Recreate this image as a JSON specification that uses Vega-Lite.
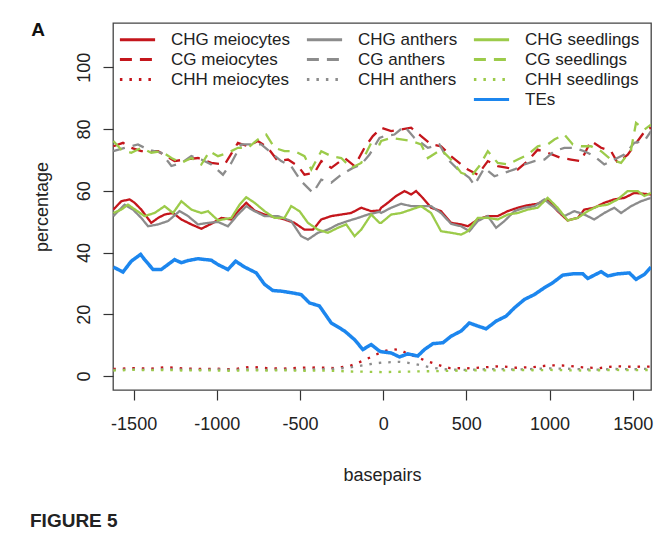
{
"$schema": "https://vega.github.io/schema/vega-lite/v6.json",
"background": "white",
"padding": {"left": 29, "top": 21, "right": 6, "bottom": 5},
"title": {"text": "A", "anchor": "start", "frame": "bounds", "fontSize": 19, "fontWeight": "bold", "font": "Liberation Sans", "color": "#111", "offset": -18, "dx": 2},
"vconcat": [{
"width": 538,
"height": 367,
"title": {"text": "FIGURE 5", "orient": "bottom", "anchor": "start", "frame": "bounds", "fontSize": 19, "fontWeight": "bold", "font": "Liberation Sans", "color": "#222", "offset": 28, "dx": -3},
"data": {"values": [
{"s":"CHG meiocytes","x":-1622,"y":53.9},{"s":"CHG meiocytes","x":-1574,"y":56.6},{"s":"CHG meiocytes","x":-1524,"y":57.2},{"s":"CHG meiocytes","x":-1494,"y":56.1},{"s":"CHG meiocytes","x":-1454,"y":53.9},{"s":"CHG meiocytes","x":-1394,"y":49.6},{"s":"CHG meiocytes","x":-1353,"y":51.2},{"s":"CHG meiocytes","x":-1314,"y":52.3},{"s":"CHG meiocytes","x":-1263,"y":52.8},{"s":"CHG meiocytes","x":-1213,"y":50.7},{"s":"CHG meiocytes","x":-1153,"y":49.1},{"s":"CHG meiocytes","x":-1093,"y":47.7},{"s":"CHG meiocytes","x":-1033,"y":49.3},{"s":"CHG meiocytes","x":-973,"y":51.2},{"s":"CHG meiocytes","x":-913,"y":50.7},{"s":"CHG meiocytes","x":-863,"y":53.9},{"s":"CHG meiocytes","x":-823,"y":56.1},{"s":"CHG meiocytes","x":-773,"y":53.6},{"s":"CHG meiocytes","x":-713,"y":52.3},{"s":"CHG meiocytes","x":-653,"y":51.5},{"s":"CHG meiocytes","x":-593,"y":50.7},{"s":"CHG meiocytes","x":-533,"y":49.6},{"s":"CHG meiocytes","x":-473,"y":47.4},{"s":"CHG meiocytes","x":-422,"y":47.4},{"s":"CHG meiocytes","x":-372,"y":50.7},{"s":"CHG meiocytes","x":-312,"y":51.8},{"s":"CHG meiocytes","x":-252,"y":52.3},{"s":"CHG meiocytes","x":-192,"y":52.8},{"s":"CHG meiocytes","x":-132,"y":54.5},{"s":"CHG meiocytes","x":-72,"y":53.4},{"s":"CHG meiocytes","x":-22,"y":53.6},{"s":"CHG meiocytes","x":-12,"y":54.5},{"s":"CHG meiocytes","x":28,"y":56.1},{"s":"CHG meiocytes","x":78,"y":58.3},{"s":"CHG meiocytes","x":128,"y":59.9},{"s":"CHG meiocytes","x":168,"y":58.8},{"s":"CHG meiocytes","x":198,"y":59.9},{"s":"CHG meiocytes","x":238,"y":57.7},{"s":"CHG meiocytes","x":288,"y":54.5},{"s":"CHG meiocytes","x":348,"y":53.4},{"s":"CHG meiocytes","x":408,"y":49.6},{"s":"CHG meiocytes","x":469,"y":49.1},{"s":"CHG meiocytes","x":509,"y":48.5},{"s":"CHG meiocytes","x":569,"y":50.7},{"s":"CHG meiocytes","x":629,"y":51.8},{"s":"CHG meiocytes","x":689,"y":51.8},{"s":"CHG meiocytes","x":749,"y":53.4},{"s":"CHG meiocytes","x":809,"y":54.5},{"s":"CHG meiocytes","x":869,"y":55.3},{"s":"CHG meiocytes","x":929,"y":55.8},{"s":"CHG meiocytes","x":989,"y":57.2},{"s":"CHG meiocytes","x":1049,"y":53.4},{"s":"CHG meiocytes","x":1109,"y":50.4},{"s":"CHG meiocytes","x":1170,"y":51.2},{"s":"CHG meiocytes","x":1209,"y":53.9},{"s":"CHG meiocytes","x":1269,"y":54.5},{"s":"CHG meiocytes","x":1329,"y":56.1},{"s":"CHG meiocytes","x":1389,"y":57.2},{"s":"CHG meiocytes","x":1450,"y":57.7},{"s":"CHG meiocytes","x":1510,"y":59.3},{"s":"CHG meiocytes","x":1570,"y":59.0},{"s":"CHG meiocytes","x":1610,"y":58.8},
{"s":"CHG anthers","x":-1622,"y":51.8},{"s":"CHG anthers","x":-1554,"y":55.5},{"s":"CHG anthers","x":-1504,"y":53.9},{"s":"CHG anthers","x":-1454,"y":51.2},{"s":"CHG anthers","x":-1413,"y":48.5},{"s":"CHG anthers","x":-1353,"y":49.1},{"s":"CHG anthers","x":-1293,"y":50.2},{"s":"CHG anthers","x":-1224,"y":53.4},{"s":"CHG anthers","x":-1173,"y":51.8},{"s":"CHG anthers","x":-1113,"y":49.1},{"s":"CHG anthers","x":-1053,"y":49.6},{"s":"CHG anthers","x":-993,"y":49.9},{"s":"CHG anthers","x":-933,"y":48.5},{"s":"CHG anthers","x":-873,"y":52.3},{"s":"CHG anthers","x":-823,"y":55.0},{"s":"CHG anthers","x":-773,"y":53.4},{"s":"CHG anthers","x":-713,"y":51.8},{"s":"CHG anthers","x":-633,"y":51.8},{"s":"CHG anthers","x":-553,"y":50.2},{"s":"CHG anthers","x":-493,"y":45.3},{"s":"CHG anthers","x":-452,"y":44.2},{"s":"CHG anthers","x":-392,"y":46.4},{"s":"CHG anthers","x":-332,"y":47.4},{"s":"CHG anthers","x":-272,"y":49.1},{"s":"CHG anthers","x":-212,"y":50.2},{"s":"CHG anthers","x":-152,"y":51.2},{"s":"CHG anthers","x":-92,"y":52.3},{"s":"CHG anthers","x":-22,"y":53.2},{"s":"CHG anthers","x":-12,"y":52.8},{"s":"CHG anthers","x":48,"y":54.5},{"s":"CHG anthers","x":108,"y":55.8},{"s":"CHG anthers","x":168,"y":55.0},{"s":"CHG anthers","x":228,"y":55.0},{"s":"CHG anthers","x":288,"y":55.0},{"s":"CHG anthers","x":348,"y":52.8},{"s":"CHG anthers","x":408,"y":49.3},{"s":"CHG anthers","x":469,"y":48.5},{"s":"CHG anthers","x":518,"y":46.9},{"s":"CHG anthers","x":569,"y":50.2},{"s":"CHG anthers","x":629,"y":51.8},{"s":"CHG anthers","x":679,"y":48.0},{"s":"CHG anthers","x":729,"y":50.2},{"s":"CHG anthers","x":789,"y":53.4},{"s":"CHG anthers","x":849,"y":54.5},{"s":"CHG anthers","x":909,"y":55.0},{"s":"CHG anthers","x":969,"y":57.2},{"s":"CHG anthers","x":1029,"y":54.5},{"s":"CHG anthers","x":1089,"y":51.8},{"s":"CHG anthers","x":1149,"y":53.4},{"s":"CHG anthers","x":1209,"y":52.3},{"s":"CHG anthers","x":1269,"y":50.7},{"s":"CHG anthers","x":1329,"y":52.8},{"s":"CHG anthers","x":1389,"y":54.5},{"s":"CHG anthers","x":1430,"y":52.8},{"s":"CHG anthers","x":1490,"y":55.0},{"s":"CHG anthers","x":1550,"y":56.6},{"s":"CHG anthers","x":1610,"y":57.7},
{"s":"CHG seedlings","x":-1622,"y":52.8},{"s":"CHG seedlings","x":-1574,"y":53.9},{"s":"CHG seedlings","x":-1534,"y":55.5},{"s":"CHG seedlings","x":-1494,"y":54.0},{"s":"CHG seedlings","x":-1434,"y":51.8},{"s":"CHG seedlings","x":-1374,"y":52.8},{"s":"CHG seedlings","x":-1314,"y":55.0},{"s":"CHG seedlings","x":-1263,"y":52.8},{"s":"CHG seedlings","x":-1213,"y":56.6},{"s":"CHG seedlings","x":-1153,"y":53.9},{"s":"CHG seedlings","x":-1093,"y":52.8},{"s":"CHG seedlings","x":-1053,"y":53.4},{"s":"CHG seedlings","x":-993,"y":50.4},{"s":"CHG seedlings","x":-913,"y":51.2},{"s":"CHG seedlings","x":-863,"y":55.5},{"s":"CHG seedlings","x":-823,"y":57.9},{"s":"CHG seedlings","x":-773,"y":56.1},{"s":"CHG seedlings","x":-713,"y":53.4},{"s":"CHG seedlings","x":-653,"y":51.2},{"s":"CHG seedlings","x":-593,"y":51.2},{"s":"CHG seedlings","x":-553,"y":55.0},{"s":"CHG seedlings","x":-503,"y":53.4},{"s":"CHG seedlings","x":-452,"y":49.6},{"s":"CHG seedlings","x":-392,"y":47.4},{"s":"CHG seedlings","x":-332,"y":46.4},{"s":"CHG seedlings","x":-272,"y":48.0},{"s":"CHG seedlings","x":-222,"y":49.1},{"s":"CHG seedlings","x":-172,"y":45.3},{"s":"CHG seedlings","x":-132,"y":47.4},{"s":"CHG seedlings","x":-72,"y":52.3},{"s":"CHG seedlings","x":-22,"y":49.6},{"s":"CHG seedlings","x":-12,"y":49.6},{"s":"CHG seedlings","x":48,"y":52.3},{"s":"CHG seedlings","x":108,"y":52.8},{"s":"CHG seedlings","x":168,"y":53.9},{"s":"CHG seedlings","x":228,"y":55.0},{"s":"CHG seedlings","x":288,"y":52.8},{"s":"CHG seedlings","x":348,"y":46.9},{"s":"CHG seedlings","x":408,"y":46.4},{"s":"CHG seedlings","x":469,"y":45.8},{"s":"CHG seedlings","x":509,"y":46.9},{"s":"CHG seedlings","x":569,"y":51.2},{"s":"CHG seedlings","x":629,"y":51.2},{"s":"CHG seedlings","x":689,"y":50.7},{"s":"CHG seedlings","x":749,"y":52.3},{"s":"CHG seedlings","x":809,"y":52.8},{"s":"CHG seedlings","x":869,"y":53.9},{"s":"CHG seedlings","x":929,"y":54.5},{"s":"CHG seedlings","x":989,"y":57.7},{"s":"CHG seedlings","x":1049,"y":54.5},{"s":"CHG seedlings","x":1109,"y":50.4},{"s":"CHG seedlings","x":1170,"y":51.2},{"s":"CHG seedlings","x":1230,"y":53.4},{"s":"CHG seedlings","x":1290,"y":55.0},{"s":"CHG seedlings","x":1350,"y":55.5},{"s":"CHG seedlings","x":1410,"y":57.2},{"s":"CHG seedlings","x":1470,"y":59.9},{"s":"CHG seedlings","x":1530,"y":59.9},{"s":"CHG seedlings","x":1570,"y":58.3},{"s":"CHG seedlings","x":1610,"y":59.3},
{"s":"CG meiocytes","x":-1622,"y":74.4},{"s":"CG meiocytes","x":-1564,"y":75.5},{"s":"CG meiocytes","x":-1514,"y":73.9},{"s":"CG meiocytes","x":-1454,"y":72.8},{"s":"CG meiocytes","x":-1353,"y":72.8},{"s":"CG meiocytes","x":-1254,"y":69.6},{"s":"CG meiocytes","x":-1194,"y":70.1},{"s":"CG meiocytes","x":-1113,"y":70.6},{"s":"CG meiocytes","x":-1033,"y":69.0},{"s":"CG meiocytes","x":-953,"y":68.5},{"s":"CG meiocytes","x":-873,"y":75.5},{"s":"CG meiocytes","x":-813,"y":74.4},{"s":"CG meiocytes","x":-753,"y":76.1},{"s":"CG meiocytes","x":-693,"y":73.9},{"s":"CG meiocytes","x":-633,"y":69.6},{"s":"CG meiocytes","x":-572,"y":70.1},{"s":"CG meiocytes","x":-512,"y":68.0},{"s":"CG meiocytes","x":-473,"y":65.2},{"s":"CG meiocytes","x":-413,"y":65.8},{"s":"CG meiocytes","x":-372,"y":69.6},{"s":"CG meiocytes","x":-312,"y":67.4},{"s":"CG meiocytes","x":-232,"y":70.6},{"s":"CG meiocytes","x":-172,"y":68.0},{"s":"CG meiocytes","x":-112,"y":73.9},{"s":"CG meiocytes","x":-62,"y":77.7},{"s":"CG meiocytes","x":-22,"y":79.8},{"s":"CG meiocytes","x":-12,"y":80.4},{"s":"CG meiocytes","x":48,"y":79.3},{"s":"CG meiocytes","x":108,"y":79.8},{"s":"CG meiocytes","x":168,"y":80.4},{"s":"CG meiocytes","x":228,"y":77.7},{"s":"CG meiocytes","x":288,"y":75.0},{"s":"CG meiocytes","x":348,"y":74.4},{"s":"CG meiocytes","x":408,"y":71.2},{"s":"CG meiocytes","x":469,"y":68.5},{"s":"CG meiocytes","x":509,"y":66.9},{"s":"CG meiocytes","x":569,"y":65.2},{"s":"CG meiocytes","x":629,"y":69.6},{"s":"CG meiocytes","x":689,"y":68.0},{"s":"CG meiocytes","x":749,"y":67.4},{"s":"CG meiocytes","x":809,"y":66.9},{"s":"CG meiocytes","x":869,"y":69.6},{"s":"CG meiocytes","x":929,"y":73.3},{"s":"CG meiocytes","x":989,"y":72.3},{"s":"CG meiocytes","x":1069,"y":70.6},{"s":"CG meiocytes","x":1129,"y":70.1},{"s":"CG meiocytes","x":1189,"y":69.6},{"s":"CG meiocytes","x":1249,"y":76.1},{"s":"CG meiocytes","x":1310,"y":73.9},{"s":"CG meiocytes","x":1370,"y":72.8},{"s":"CG meiocytes","x":1410,"y":69.0},{"s":"CG meiocytes","x":1470,"y":71.7},{"s":"CG meiocytes","x":1530,"y":76.1},{"s":"CG meiocytes","x":1580,"y":79.8},{"s":"CG meiocytes","x":1610,"y":80.4},
{"s":"CG anthers","x":-1622,"y":72.8},{"s":"CG anthers","x":-1554,"y":73.9},{"s":"CG anthers","x":-1474,"y":75.0},{"s":"CG anthers","x":-1413,"y":73.3},{"s":"CG anthers","x":-1334,"y":72.3},{"s":"CG anthers","x":-1273,"y":68.0},{"s":"CG anthers","x":-1213,"y":69.0},{"s":"CG anthers","x":-1153,"y":71.2},{"s":"CG anthers","x":-1093,"y":70.1},{"s":"CG anthers","x":-1033,"y":68.5},{"s":"CG anthers","x":-963,"y":65.2},{"s":"CG anthers","x":-913,"y":69.0},{"s":"CG anthers","x":-853,"y":75.0},{"s":"CG anthers","x":-793,"y":75.0},{"s":"CG anthers","x":-733,"y":75.0},{"s":"CG anthers","x":-673,"y":72.3},{"s":"CG anthers","x":-613,"y":69.6},{"s":"CG anthers","x":-553,"y":68.0},{"s":"CG anthers","x":-493,"y":63.1},{"s":"CG anthers","x":-422,"y":59.3},{"s":"CG anthers","x":-372,"y":63.6},{"s":"CG anthers","x":-312,"y":62.6},{"s":"CG anthers","x":-252,"y":65.2},{"s":"CG anthers","x":-182,"y":67.4},{"s":"CG anthers","x":-132,"y":68.5},{"s":"CG anthers","x":-82,"y":71.7},{"s":"CG anthers","x":-22,"y":77.1},{"s":"CG anthers","x":8,"y":77.7},{"s":"CG anthers","x":68,"y":78.2},{"s":"CG anthers","x":128,"y":80.9},{"s":"CG anthers","x":188,"y":77.1},{"s":"CG anthers","x":269,"y":73.9},{"s":"CG anthers","x":338,"y":75.0},{"s":"CG anthers","x":389,"y":70.1},{"s":"CG anthers","x":449,"y":66.9},{"s":"CG anthers","x":518,"y":64.2},{"s":"CG anthers","x":548,"y":61.8},{"s":"CG anthers","x":609,"y":67.4},{"s":"CG anthers","x":669,"y":64.7},{"s":"CG anthers","x":729,"y":65.8},{"s":"CG anthers","x":789,"y":66.9},{"s":"CG anthers","x":849,"y":68.5},{"s":"CG anthers","x":909,"y":69.6},{"s":"CG anthers","x":969,"y":70.1},{"s":"CG anthers","x":1029,"y":72.8},{"s":"CG anthers","x":1089,"y":73.9},{"s":"CG anthers","x":1149,"y":73.9},{"s":"CG anthers","x":1209,"y":72.8},{"s":"CG anthers","x":1269,"y":71.2},{"s":"CG anthers","x":1329,"y":68.5},{"s":"CG anthers","x":1389,"y":70.1},{"s":"CG anthers","x":1450,"y":71.7},{"s":"CG anthers","x":1510,"y":75.5},{"s":"CG anthers","x":1570,"y":76.1},{"s":"CG anthers","x":1610,"y":79.3},
{"s":"CG seedlings","x":-1622,"y":76.1},{"s":"CG seedlings","x":-1574,"y":73.3},{"s":"CG seedlings","x":-1514,"y":72.3},{"s":"CG seedlings","x":-1454,"y":73.9},{"s":"CG seedlings","x":-1394,"y":72.3},{"s":"CG seedlings","x":-1334,"y":72.8},{"s":"CG seedlings","x":-1273,"y":70.6},{"s":"CG seedlings","x":-1213,"y":69.0},{"s":"CG seedlings","x":-1153,"y":70.6},{"s":"CG seedlings","x":-1093,"y":68.5},{"s":"CG seedlings","x":-1043,"y":72.8},{"s":"CG seedlings","x":-993,"y":71.2},{"s":"CG seedlings","x":-933,"y":72.3},{"s":"CG seedlings","x":-873,"y":73.9},{"s":"CG seedlings","x":-813,"y":73.9},{"s":"CG seedlings","x":-753,"y":76.6},{"s":"CG seedlings","x":-703,"y":78.2},{"s":"CG seedlings","x":-653,"y":73.9},{"s":"CG seedlings","x":-593,"y":72.8},{"s":"CG seedlings","x":-533,"y":72.8},{"s":"CG seedlings","x":-473,"y":71.2},{"s":"CG seedlings","x":-432,"y":66.9},{"s":"CG seedlings","x":-372,"y":72.8},{"s":"CG seedlings","x":-312,"y":71.2},{"s":"CG seedlings","x":-252,"y":70.6},{"s":"CG seedlings","x":-192,"y":67.4},{"s":"CG seedlings","x":-132,"y":69.0},{"s":"CG seedlings","x":-72,"y":75.5},{"s":"CG seedlings","x":-22,"y":75.0},{"s":"CG seedlings","x":-12,"y":76.1},{"s":"CG seedlings","x":48,"y":77.1},{"s":"CG seedlings","x":108,"y":76.6},{"s":"CG seedlings","x":168,"y":76.1},{"s":"CG seedlings","x":228,"y":75.0},{"s":"CG seedlings","x":269,"y":70.6},{"s":"CG seedlings","x":348,"y":73.3},{"s":"CG seedlings","x":408,"y":70.1},{"s":"CG seedlings","x":469,"y":65.8},{"s":"CG seedlings","x":529,"y":64.7},{"s":"CG seedlings","x":578,"y":68.0},{"s":"CG seedlings","x":629,"y":72.8},{"s":"CG seedlings","x":689,"y":69.0},{"s":"CG seedlings","x":749,"y":68.5},{"s":"CG seedlings","x":809,"y":70.1},{"s":"CG seedlings","x":869,"y":71.7},{"s":"CG seedlings","x":929,"y":74.4},{"s":"CG seedlings","x":989,"y":75.0},{"s":"CG seedlings","x":1029,"y":76.6},{"s":"CG seedlings","x":1089,"y":78.2},{"s":"CG seedlings","x":1140,"y":75.0},{"s":"CG seedlings","x":1189,"y":74.4},{"s":"CG seedlings","x":1249,"y":74.4},{"s":"CG seedlings","x":1310,"y":72.8},{"s":"CG seedlings","x":1370,"y":70.1},{"s":"CG seedlings","x":1430,"y":69.0},{"s":"CG seedlings","x":1490,"y":73.3},{"s":"CG seedlings","x":1520,"y":82.0},{"s":"CG seedlings","x":1570,"y":79.8},{"s":"CG seedlings","x":1610,"y":81.4},
{"s":"CHH meiocytes","x":-1622,"y":2.3},{"s":"CHH meiocytes","x":-1500,"y":2.6},{"s":"CHH meiocytes","x":-1400,"y":2.4},{"s":"CHH meiocytes","x":-1300,"y":2.9},{"s":"CHH meiocytes","x":-1200,"y":2.5},{"s":"CHH meiocytes","x":-1100,"y":2.3},{"s":"CHH meiocytes","x":-1000,"y":2.4},{"s":"CHH meiocytes","x":-900,"y":2.2},{"s":"CHH meiocytes","x":-800,"y":3.0},{"s":"CHH meiocytes","x":-700,"y":2.6},{"s":"CHH meiocytes","x":-600,"y":2.4},{"s":"CHH meiocytes","x":-500,"y":2.7},{"s":"CHH meiocytes","x":-400,"y":2.8},{"s":"CHH meiocytes","x":-300,"y":2.6},{"s":"CHH meiocytes","x":-250,"y":2.9},{"s":"CHH meiocytes","x":-200,"y":3.3},{"s":"CHH meiocytes","x":-150,"y":4.3},{"s":"CHH meiocytes","x":-100,"y":5.5},{"s":"CHH meiocytes","x":-50,"y":6.8},{"s":"CHH meiocytes","x":0,"y":8.0},{"s":"CHH meiocytes","x":50,"y":8.7},{"s":"CHH meiocytes","x":100,"y":8.5},{"s":"CHH meiocytes","x":150,"y":7.2},{"s":"CHH meiocytes","x":200,"y":6.2},{"s":"CHH meiocytes","x":250,"y":5.1},{"s":"CHH meiocytes","x":300,"y":4.2},{"s":"CHH meiocytes","x":350,"y":3.3},{"s":"CHH meiocytes","x":400,"y":2.6},{"s":"CHH meiocytes","x":500,"y":2.5},{"s":"CHH meiocytes","x":600,"y":2.8},{"s":"CHH meiocytes","x":700,"y":3.2},{"s":"CHH meiocytes","x":800,"y":2.7},{"s":"CHH meiocytes","x":900,"y":2.9},{"s":"CHH meiocytes","x":1000,"y":3.5},{"s":"CHH meiocytes","x":1100,"y":3.4},{"s":"CHH meiocytes","x":1200,"y":2.8},{"s":"CHH meiocytes","x":1300,"y":2.6},{"s":"CHH meiocytes","x":1400,"y":3.2},{"s":"CHH meiocytes","x":1500,"y":3.0},{"s":"CHH meiocytes","x":1610,"y":3.1},
{"s":"CHH anthers","x":-1622,"y":2.0},{"s":"CHH anthers","x":-1500,"y":2.2},{"s":"CHH anthers","x":-1400,"y":2.0},{"s":"CHH anthers","x":-1300,"y":2.3},{"s":"CHH anthers","x":-1200,"y":2.1},{"s":"CHH anthers","x":-1100,"y":2.0},{"s":"CHH anthers","x":-1000,"y":2.2},{"s":"CHH anthers","x":-900,"y":2.0},{"s":"CHH anthers","x":-800,"y":2.2},{"s":"CHH anthers","x":-700,"y":2.0},{"s":"CHH anthers","x":-600,"y":2.1},{"s":"CHH anthers","x":-500,"y":2.0},{"s":"CHH anthers","x":-400,"y":2.2},{"s":"CHH anthers","x":-300,"y":2.3},{"s":"CHH anthers","x":-200,"y":2.8},{"s":"CHH anthers","x":-150,"y":3.2},{"s":"CHH anthers","x":-100,"y":3.7},{"s":"CHH anthers","x":-50,"y":4.1},{"s":"CHH anthers","x":0,"y":4.4},{"s":"CHH anthers","x":50,"y":4.5},{"s":"CHH anthers","x":100,"y":4.6},{"s":"CHH anthers","x":150,"y":4.3},{"s":"CHH anthers","x":200,"y":3.8},{"s":"CHH anthers","x":250,"y":3.2},{"s":"CHH anthers","x":300,"y":2.7},{"s":"CHH anthers","x":350,"y":2.3},{"s":"CHH anthers","x":400,"y":2.1},{"s":"CHH anthers","x":500,"y":2.0},{"s":"CHH anthers","x":600,"y":2.2},{"s":"CHH anthers","x":700,"y":2.3},{"s":"CHH anthers","x":800,"y":2.1},{"s":"CHH anthers","x":900,"y":2.3},{"s":"CHH anthers","x":1000,"y":2.5},{"s":"CHH anthers","x":1100,"y":2.4},{"s":"CHH anthers","x":1200,"y":2.2},{"s":"CHH anthers","x":1300,"y":2.1},{"s":"CHH anthers","x":1400,"y":2.3},{"s":"CHH anthers","x":1500,"y":2.2},{"s":"CHH anthers","x":1610,"y":2.4},
{"s":"CHH seedlings","x":-1622,"y":1.8},{"s":"CHH seedlings","x":-1500,"y":2.0},{"s":"CHH seedlings","x":-1400,"y":1.9},{"s":"CHH seedlings","x":-1300,"y":2.0},{"s":"CHH seedlings","x":-1200,"y":1.8},{"s":"CHH seedlings","x":-1100,"y":1.9},{"s":"CHH seedlings","x":-1000,"y":1.8},{"s":"CHH seedlings","x":-900,"y":1.7},{"s":"CHH seedlings","x":-800,"y":1.9},{"s":"CHH seedlings","x":-700,"y":1.8},{"s":"CHH seedlings","x":-600,"y":1.9},{"s":"CHH seedlings","x":-500,"y":1.7},{"s":"CHH seedlings","x":-400,"y":1.8},{"s":"CHH seedlings","x":-300,"y":1.7},{"s":"CHH seedlings","x":-200,"y":1.5},{"s":"CHH seedlings","x":-100,"y":1.4},{"s":"CHH seedlings","x":0,"y":1.3},{"s":"CHH seedlings","x":100,"y":1.4},{"s":"CHH seedlings","x":200,"y":1.5},{"s":"CHH seedlings","x":300,"y":1.6},{"s":"CHH seedlings","x":400,"y":1.7},{"s":"CHH seedlings","x":500,"y":1.8},{"s":"CHH seedlings","x":600,"y":1.9},{"s":"CHH seedlings","x":700,"y":1.8},{"s":"CHH seedlings","x":800,"y":2.0},{"s":"CHH seedlings","x":900,"y":1.9},{"s":"CHH seedlings","x":1000,"y":2.0},{"s":"CHH seedlings","x":1100,"y":1.9},{"s":"CHH seedlings","x":1200,"y":1.8},{"s":"CHH seedlings","x":1300,"y":1.9},{"s":"CHH seedlings","x":1400,"y":2.0},{"s":"CHH seedlings","x":1500,"y":1.9},{"s":"CHH seedlings","x":1610,"y":2.0},
{"s":"TEs","x":-1622,"y":35.3},{"s":"TEs","x":-1564,"y":33.7},{"s":"TEs","x":-1514,"y":37.2},{"s":"TEs","x":-1458,"y":39.4},{"s":"TEs","x":-1434,"y":37.7},{"s":"TEs","x":-1383,"y":34.5},{"s":"TEs","x":-1334,"y":34.5},{"s":"TEs","x":-1254,"y":37.7},{"s":"TEs","x":-1213,"y":36.7},{"s":"TEs","x":-1173,"y":37.4},{"s":"TEs","x":-1113,"y":38.0},{"s":"TEs","x":-1033,"y":37.5},{"s":"TEs","x":-993,"y":36.1},{"s":"TEs","x":-933,"y":34.5},{"s":"TEs","x":-887,"y":37.2},{"s":"TEs","x":-833,"y":35.3},{"s":"TEs","x":-763,"y":33.4},{"s":"TEs","x":-713,"y":29.7},{"s":"TEs","x":-663,"y":27.7},{"s":"TEs","x":-613,"y":27.5},{"s":"TEs","x":-553,"y":27.0},{"s":"TEs","x":-493,"y":26.4},{"s":"TEs","x":-443,"y":23.7},{"s":"TEs","x":-383,"y":22.7},{"s":"TEs","x":-312,"y":17.2},{"s":"TEs","x":-232,"y":14.6},{"s":"TEs","x":-172,"y":11.8},{"s":"TEs","x":-122,"y":8.6},{"s":"TEs","x":-72,"y":10.2},{"s":"TEs","x":-22,"y":8.1},{"s":"TEs","x":-12,"y":7.9},{"s":"TEs","x":48,"y":7.5},{"s":"TEs","x":98,"y":6.2},{"s":"TEs","x":148,"y":7.2},{"s":"TEs","x":208,"y":6.5},{"s":"TEs","x":248,"y":8.6},{"s":"TEs","x":299,"y":10.5},{"s":"TEs","x":359,"y":10.8},{"s":"TEs","x":408,"y":12.9},{"s":"TEs","x":469,"y":14.6},{"s":"TEs","x":518,"y":17.2},{"s":"TEs","x":569,"y":16.2},{"s":"TEs","x":619,"y":15.3},{"s":"TEs","x":679,"y":17.8},{"s":"TEs","x":739,"y":19.4},{"s":"TEs","x":789,"y":22.1},{"s":"TEs","x":849,"y":24.8},{"s":"TEs","x":909,"y":26.4},{"s":"TEs","x":969,"y":28.6},{"s":"TEs","x":1019,"y":30.2},{"s":"TEs","x":1080,"y":32.7},{"s":"TEs","x":1140,"y":33.1},{"s":"TEs","x":1200,"y":33.1},{"s":"TEs","x":1230,"y":31.6},{"s":"TEs","x":1310,"y":33.8},{"s":"TEs","x":1350,"y":32.4},{"s":"TEs","x":1410,"y":33.1},{"s":"TEs","x":1480,"y":33.4},{"s":"TEs","x":1520,"y":31.3},{"s":"TEs","x":1570,"y":32.9},{"s":"TEs","x":1610,"y":35.3}
]},
"encoding": {
 "x": {"field": "x", "type": "quantitative", "title": "basepairs",
   "scale": {"domain": [-1624, 1610], "nice": false, "zero": false},
   "axis": {"values": [-1500, -1000, -500, 0, 500, 1000, 1500], "labelExpr": "'' + datum.value", "labelPadding": 15, "titlePadding": 33, "labelFlush": false}},
 "y": {"field": "y", "type": "quantitative", "title": "percentage",
   "scale": {"domain": [-4.5, 114.3], "nice": false, "zero": false},
   "axis": {"values": [0, 20, 40, 60, 80, 100], "labelAngle": -90, "labelAlign": "center", "labelBaseline": "bottom", "labelPadding": 10, "titlePadding": 24, "labelFlush": false}},
 "color": {"field": "s", "type": "nominal", "title": null,
   "scale": {"domain": ["CHG meiocytes", "CG meiocytes", "CHH meiocytes", " ", "CHG anthers", "CG anthers", "CHH anthers", "  ", "CHG seedlings", "CG seedlings", "CHH seedlings", "TEs"],
             "range": ["#C4161C", "#C4161C", "#C4161C", "transparent", "#8C8C8C", "#8C8C8C", "#8C8C8C", "transparent", "#9CCB4A", "#9CCB4A", "#9CCB4A", "#1C86EE"]},
   "legend": {"orient": "none", "legendX": 15, "legendY": 7, "columns": 3, "symbolType": "M-2.2,0H2.2", "symbolSize": 256, "symbolStrokeWidth": 3, "labelFont": "Liberation Sans", "labelFontSize": 17, "labelColor": "#222", "labelOffset": 24, "columnPadding": 9, "rowPadding": 2, "labelLimit": 300}},
 "strokeDash": {"field": "s", "type": "nominal", "title": null,
   "scale": {"domain": ["CHG meiocytes", "CG meiocytes", "CHH meiocytes", " ", "CHG anthers", "CG anthers", "CHH anthers", "  ", "CHG seedlings", "CG seedlings", "CHH seedlings", "TEs"],
             "range": [[1,0],[12,8],[2.5,7],[1,0],[1,0],[12,8],[2.5,7],[1,0],[1,0],[12,8],[2.5,7],[1,0]]},
   "legend": {"orient": "none", "legendX": 15, "legendY": 7, "columns": 3, "symbolType": "M-2.2,0H2.2", "symbolSize": 256, "symbolStrokeWidth": 3, "labelFont": "Liberation Sans", "labelFontSize": 17, "labelColor": "#222", "labelOffset": 24, "columnPadding": 9, "rowPadding": 2, "labelLimit": 300}}
},
"layer": [
 {"transform": [{"filter": "datum.s != 'TEs'"}], "mark": {"type": "line", "strokeWidth": 2.3, "clip": true, "interpolate": "linear"}},
 {"transform": [{"filter": "datum.s == 'TEs'"}], "mark": {"type": "line", "strokeWidth": 3.5, "clip": true}}
]
}],
"config": {
 "view": {"stroke": "#444", "strokeWidth": 1.3},
 "axis": {"grid": false, "domain": false, "tickSize": 10, "tickColor": "#333", "tickWidth": 1.2,
   "labelFont": "Liberation Sans", "labelFontSize": 18, "labelColor": "#222",
   "titleFont": "Liberation Sans", "titleFontSize": 18, "titleFontWeight": "normal", "titleColor": "#222"},
 "legend": {"padding": 0}
}
}
